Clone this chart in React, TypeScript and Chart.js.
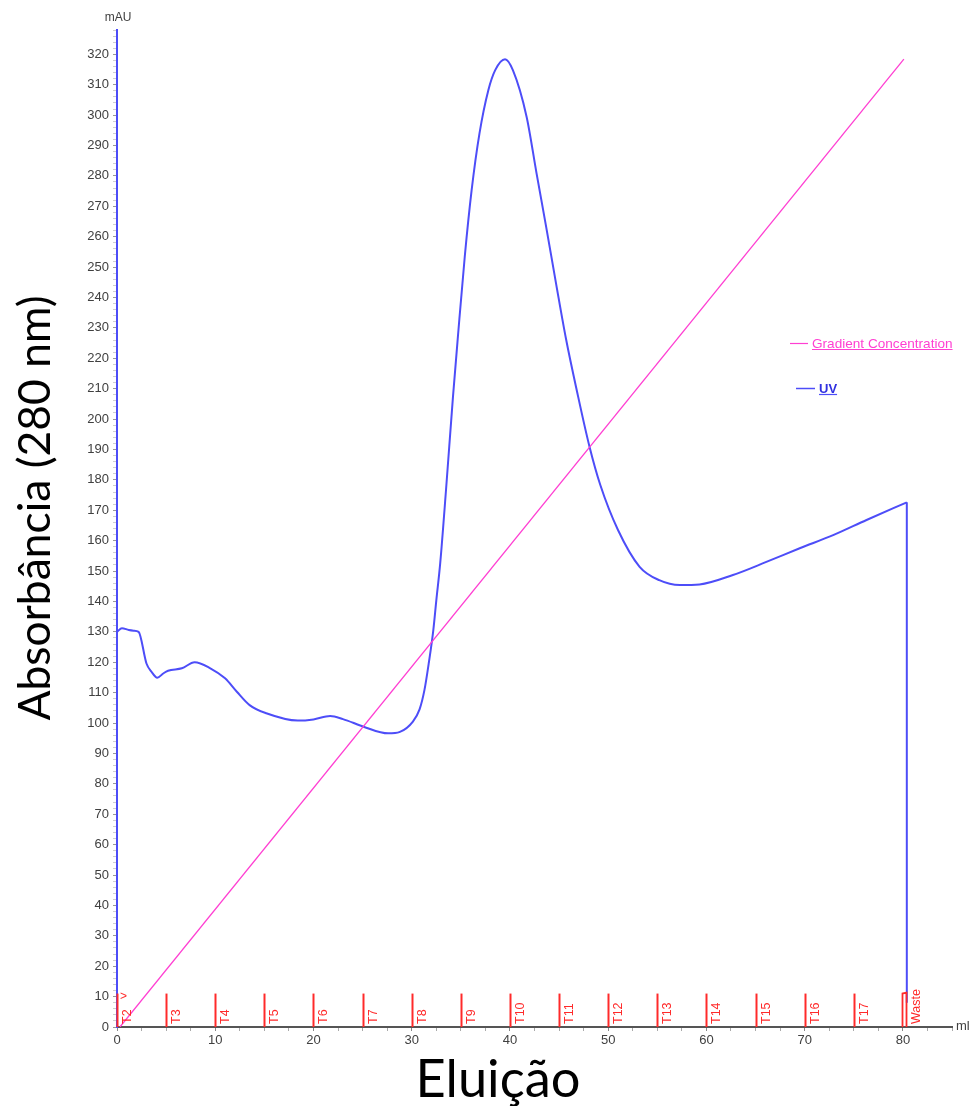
import React, { useEffect, useRef } from 'react';
import { Chart, registerables } from 'chart.js';

Chart.register(...registerables);

// ---- Data ----
const uvX = [0, 0.5, 1.2, 1.7, 2.2, 3.0, 3.5, 4.1, 4.7, 5.2, 6.6, 7.9, 9.5, 11.0, 12.2, 13.5, 15.2, 18.4, 20.0, 21.7, 23.0, 25.1, 27.6, 28.8, 30.1, 30.8, 31.3, 31.75, 32.2, 32.5, 32.9, 33.5, 34.2, 34.7, 35.4, 36.1, 36.9, 37.8, 38.5, 39.5, 40.3, 41.7, 42.7, 43.7, 44.7, 45.7, 46.8, 48.1, 49.2, 51.0, 53.2, 55.2, 57.3, 59.3, 62.7, 66.1, 69.5, 72.9, 76.3, 80.4];
const uvY = [130, 131.2, 130.6, 130.4, 130, 119.6, 116.9, 114.9, 116.3, 117.2, 118, 120, 118, 114.7, 110.3, 105.9, 103.2, 100.8, 101.2, 102.3, 101.3, 98.8, 96.6, 97.1, 100.4, 104.5, 110.9, 120, 130.6, 140.2, 152.5, 177, 207.3, 227, 253.4, 275.3, 294, 308.2, 314.8, 318.4, 314.8, 299.4, 281, 263, 244.5, 226.5, 209.5, 190.9, 178.3, 163.5, 151.4, 147, 145.4, 145.6, 148.7, 153, 157.5, 161.8, 166.8, 172.6];
const uvDropX = [80.4, 80.4];
const uvDropY = [172.6, 8];
const gradientX = [0.3, 80.1];
const gradientY = [0, 318.4];
const fractionX = [0, 5, 10, 15, 20, 25, 30, 35, 40, 45, 50, 55, 60, 65, 70, 75];
const fractionLabels = ['T2', 'T3', 'T4', 'T5', 'T6', 'T7', 'T8', 'T9', 'T10', 'T11', 'T12', 'T13', 'T14', 'T15', 'T16', 'T17'];
const wasteX = [79.95, 80.3];
const wasteLabel = 'Waste';
const markerHeight = 11;
const xMin = 0;
const xMax = 85;
const xStep = 2.5;
const yMin = 0;
const yMax = 328;
const yStep = 2;
const yTitle = 'Absorbância (280 nm)';
const xTitle = 'Eluição';
const yUnit = 'mAU';
const xUnit = 'ml';
const seriesNames = ['Gradient Concentration', 'UV'];

const UV_COLOR = '#4d4df8';
const GRAD_COLOR = '#ff3fd2';
const RED = '#ff2a2a';
const TICK_FONT = '"Liberation Sans", Arial, sans-serif';
const TITLE_FONT = 'Lato, "Open Sans", sans-serif';

const decorPlugin = {
  id: 'decor',
  afterDatasetsDraw(chart: any) {
    const ctx = chart.ctx as CanvasRenderingContext2D;
    const xs = chart.scales.x;
    const ys = chart.scales.y;
    const y0 = ys.getPixelForValue(0);
    const yTop = ys.getPixelForValue(markerHeight);
    ctx.save();
    // fraction markers
    ctx.strokeStyle = RED;
    ctx.fillStyle = RED;
    ctx.lineWidth = 2;
    fractionX.forEach((v, i) => {
      const px = Math.round(xs.getPixelForValue(v)) + 0.5;
      ctx.beginPath();
      ctx.moveTo(px, y0);
      ctx.lineTo(px, yTop);
      ctx.stroke();
      ctx.save();
      ctx.translate(px + 4, y0 - 3);
      ctx.rotate(-Math.PI / 2);
      ctx.font = '12.5px ' + TICK_FONT;
      ctx.textAlign = 'left';
      ctx.textBaseline = 'top';
      ctx.fillText(fractionLabels[i], 0, 0);
      ctx.restore();
    });
    // start symbol
    ctx.font = '12px ' + TICK_FONT;
    ctx.textAlign = 'left';
    ctx.textBaseline = 'middle';
    ctx.fillText('>', xs.getPixelForValue(0) + 3, yTop + 3);
    // waste marker
    const w1 = Math.round(xs.getPixelForValue(wasteX[0])) + 0.5;
    const w2 = Math.round(xs.getPixelForValue(wasteX[1])) + 0.5;
    ctx.lineWidth = 1.8;
    ctx.beginPath();
    ctx.moveTo(w1, y0);
    ctx.lineTo(w1, yTop);
    ctx.lineTo(w2, yTop - 1);
    ctx.lineTo(w2, y0);
    ctx.stroke();
    ctx.save();
    ctx.translate(w2 + 4, y0 - 3);
    ctx.rotate(-Math.PI / 2);
    ctx.font = '12.5px ' + TICK_FONT;
    ctx.textAlign = 'left';
    ctx.textBaseline = 'top';
    ctx.fillText(wasteLabel, 0, 0);
    ctx.restore();

    // unit labels
    ctx.fillStyle = '#404040';
    ctx.font = '12px ' + TICK_FONT;
    ctx.textAlign = 'center';
    ctx.textBaseline = 'middle';
    ctx.fillText(yUnit, 118, 18);
    ctx.textAlign = 'left';
    ctx.font = '13px ' + TICK_FONT;
    ctx.fillText(xUnit, 956, y0 - 1);

    // legend
    ctx.lineWidth = 1.2;
    ctx.strokeStyle = GRAD_COLOR;
    ctx.beginPath();
    ctx.moveTo(790, 343.5);
    ctx.lineTo(808, 343.5);
    ctx.stroke();
    ctx.fillStyle = GRAD_COLOR;
    ctx.font = '13.6px ' + TICK_FONT;
    ctx.textBaseline = 'alphabetic';
    ctx.fillText(seriesNames[0], 812, 347.5);
    const gw = ctx.measureText(seriesNames[0]).width;
    ctx.beginPath();
    ctx.moveTo(812, 349.5);
    ctx.lineTo(812 + gw, 349.5);
    ctx.stroke();

    ctx.strokeStyle = UV_COLOR;
    ctx.lineWidth = 1.5;
    ctx.beginPath();
    ctx.moveTo(796, 388.5);
    ctx.lineTo(815, 388.5);
    ctx.stroke();
    ctx.fillStyle = '#3030e0';
    ctx.font = 'bold 13px ' + TICK_FONT;
    ctx.fillText(seriesNames[1], 819, 392.5);
    const uw = ctx.measureText(seriesNames[1]).width;
    ctx.lineWidth = 1.2;
    ctx.beginPath();
    ctx.moveTo(819, 394.5);
    ctx.lineTo(819 + uw, 394.5);
    ctx.stroke();

    // titles
    ctx.fillStyle = '#000';
    const fit = (text: string, target: number) => {
      ctx.font = '40px ' + TITLE_FONT;
      const w = ctx.measureText(text).width;
      return (40 * target) / w;
    };
    const ySize = fit(yTitle, 425);
    ctx.save();
    ctx.translate(36, 508);
    ctx.rotate(-Math.PI / 2);
    ctx.font = ySize.toFixed(1) + 'px ' + TITLE_FONT;
    ctx.textAlign = 'center';
    ctx.textBaseline = 'middle';
    ctx.fillText(yTitle, 0, 0);
    ctx.restore();
    const xSize = fit(xTitle, 165);
    ctx.font = xSize.toFixed(1) + 'px ' + TITLE_FONT;
    ctx.textAlign = 'center';
    ctx.textBaseline = 'alphabetic';
    ctx.fillText(xTitle, 498, 1097);
    ctx.restore();
  },
};

const isMajor = (v: number, step: number) => Math.abs(v % step) < 1e-6;

export default function App() {
  const ref = useRef<HTMLCanvasElement | null>(null);
  useEffect(() => {
    if (!ref.current) return;
    const uvData = uvX.map((x, i) => ({ x, y: uvY[i] }));
    const dropData = uvDropX.map((x, i) => ({ x, y: uvDropY[i] }));
    const gradData = gradientX.map((x, i) => ({ x, y: gradientY[i] }));
    const chart = new Chart(ref.current, {
      type: 'line',
      data: {
        datasets: [
          {
            label: seriesNames[0],
            data: gradData,
            borderColor: GRAD_COLOR,
            borderWidth: 1.3,
            pointRadius: 0,
            tension: 0,
          },
          {
            label: seriesNames[1],
            data: uvData,
            borderColor: UV_COLOR,
            borderWidth: 2,
            pointRadius: 0,
            cubicInterpolationMode: 'monotone',
          },
          {
            label: 'UV drop',
            data: dropData,
            borderColor: UV_COLOR,
            borderWidth: 2,
            pointRadius: 0,
            tension: 0,
          },
        ],
      },
      options: {
        animation: false,
        responsive: false,
        devicePixelRatio: 1,
        layout: { padding: { left: 0, right: 22, top: 30, bottom: 0 } },
        plugins: { legend: { display: false }, tooltip: { enabled: false } },
        scales: {
          x: {
            type: 'linear',
            min: xMin,
            max: xMax,
            afterFit: (s: any) => { s.height = 79; },
            grid: {
              drawOnChartArea: false,
              drawTicks: true,
              tickLength: 4,
              color: (c: any) => (c.tick && isMajor(c.tick.value, 10) ? '#888' : '#aaa'),
            },
            border: { color: '#555', width: 2 },
            ticks: {
              stepSize: xStep,
              autoSkip: false,
              maxRotation: 0,
              padding: 2,
              color: '#404040',
              font: { family: TICK_FONT, size: 13 },
              callback: (v: any) => (isMajor(v, 10) && v <= 80 ? String(v) : ''),
            },
          },
          y: {
            type: 'linear',
            min: yMin,
            max: yMax,
            afterFit: (s: any) => { s.width = 117; },
            grid: {
              drawOnChartArea: false,
              drawTicks: true,
              tickLength: 4,
              color: (c: any) => (c.tick && isMajor(c.tick.value, 10) ? '#999' : '#cfcfcf'),
            },
            border: { color: UV_COLOR, width: 2 },
            ticks: {
              stepSize: yStep,
              autoSkip: false,
              padding: 4,
              color: '#404040',
              font: { family: TICK_FONT, size: 13 },
              callback: (v: any) => (isMajor(v, 10) ? String(v) : ''),
            },
          },
        },
      },
      plugins: [decorPlugin],
    } as any);
    return () => chart.destroy();
  }, []);
  return (
    <div style={{ position: 'absolute', left: 0, top: 0, width: 974, height: 1106, background: '#fff' }}>
      <canvas ref={ref} width={974} height={1106} style={{ display: 'block' }} />
    </div>
  );
}
